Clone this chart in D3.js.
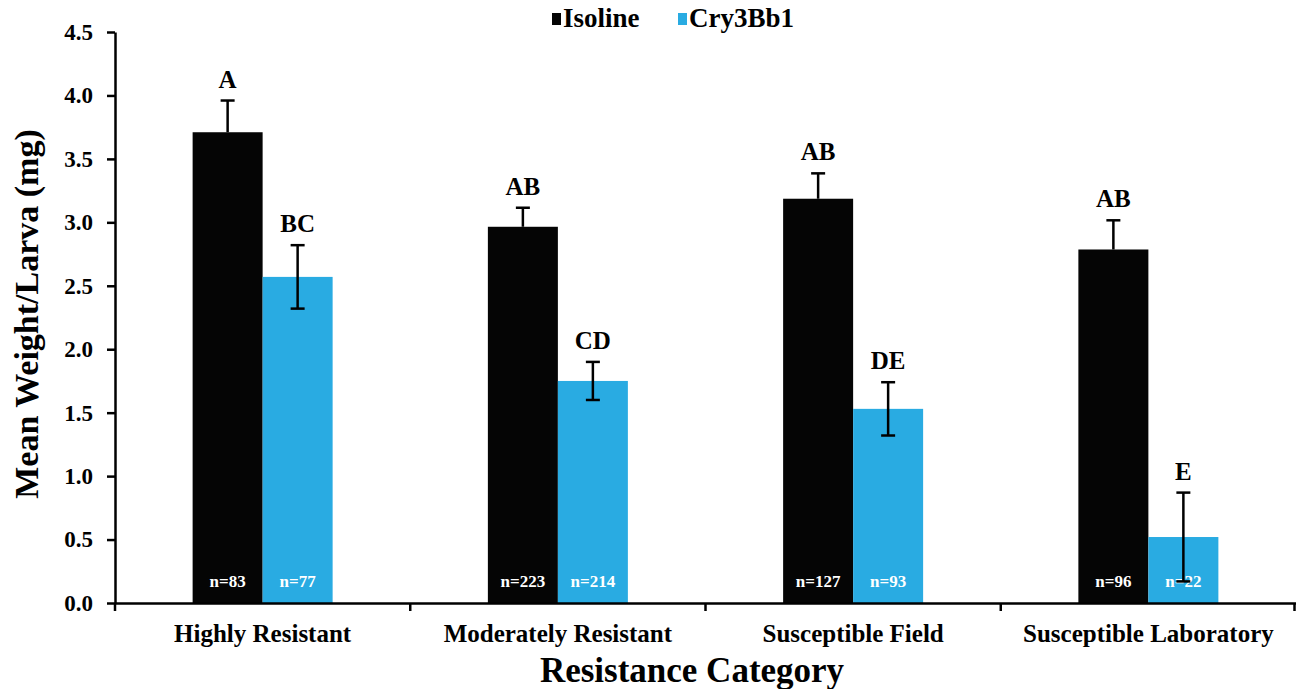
<!DOCTYPE html>
<html>
<head>
<style>
  body, html { margin: 0; padding: 0; background: #fff; }
  svg text { font-family: "Liberation Serif", "Times New Roman", serif; font-weight: bold; }
</style>
</head>
<body>
<svg id="svg" width="1296" height="689"></svg>
<script src="https://d3js.org/d3.v7.min.js"></script>
<script>
  const categories = ['Highly Resistant', 'Moderately Resistant', 'Susceptible Field', 'Susceptible Laboratory']
  const series = ['Isoline', 'Cry3Bb1']
  const isolineMean = [3.71, 2.965, 3.186, 2.786]
  const isolineErr = [0.25, 0.15, 0.20, 0.23]
  const cryMean = [2.57, 1.75, 1.53, 0.52]
  const cryErr = [0.25, 0.15, 0.21, 0.35]
  const isolineLetters = ['A', 'AB', 'AB', 'AB']
  const cryLetters = ['BC', 'CD', 'DE', 'E']
  const isolineN = ['n=83', 'n=223', 'n=127', 'n=96']
  const cryN = ['n=77', 'n=214', 'n=93', 'n=22']
  const yTicks = [0, 0.5, 1, 1.5, 2, 2.5, 3, 3.5, 4, 4.5]

  const colors = { Isoline: '#050505', Cry3Bb1: '#29abe2' }

  const data = []
  categories.forEach((c, i) => {
    data.push({ cat: c, s: 'Isoline', v: isolineMean[i], e: isolineErr[i], letter: isolineLetters[i], n: isolineN[i] })
    data.push({ cat: c, s: 'Cry3Bb1', v: cryMean[i], e: cryErr[i], letter: cryLetters[i], n: cryN[i] })
  })

  const margin = { left: 115, right: 0 }
  const width = 1296
  const svg = d3.select('#svg')

  const x = d3.scaleBand()
    .domain(categories)
    .range([margin.left, width - margin.right])
  const xs = d3.scaleBand()
    .domain(series)
    .range([(x.bandwidth() - 140) / 2, (x.bandwidth() + 140) / 2])
  const y = d3.scaleLinear()
    .domain([0, 4.5])
    .range([603, 32])

  // bars
  const bars = svg.append('g')
  bars.selectAll('rect')
    .data(data)
    .enter()
    .append('rect')
    .attr('x', d => x(d.cat) + xs(d.s))
    .attr('y', d => y(d.v))
    .attr('width', xs.bandwidth())
    .attr('height', d => y(0) - y(d.v))
    .attr('fill', d => colors[d.s])

  // n labels
  bars.selectAll('text.n')
    .data(data)
    .enter()
    .append('text')
    .attr('class', 'n')
    .attr('x', d => x(d.cat) + xs(d.s) + xs.bandwidth() / 2)
    .attr('y', 587)
    .attr('text-anchor', 'middle')
    .attr('fill', '#fff')
    .style('font-size', '17px')
    .text(d => d.n)

  // error bars (lower half of isoline is hidden by the black bar anyway)
  const err = svg.append('g').attr('stroke', '#000').attr('stroke-width', 2.5)
  data.forEach(d => {
    const cx = x(d.cat) + xs(d.s) + xs.bandwidth() / 2
    const lo = d.s === 'Isoline' ? d.v : d.v - d.e
    err.append('line').attr('x1', cx).attr('x2', cx).attr('y1', y(lo)).attr('y2', y(d.v + d.e))
    err.append('line').attr('x1', cx - 7).attr('x2', cx + 7).attr('y1', y(d.v + d.e)).attr('y2', y(d.v + d.e))
    if (d.s !== 'Isoline') {
      err.append('line').attr('x1', cx - 7).attr('x2', cx + 7).attr('y1', y(lo)).attr('y2', y(lo))
    }
  })

  // significance letters
  svg.append('g').selectAll('text')
    .data(data)
    .enter()
    .append('text')
    .attr('x', d => x(d.cat) + xs(d.s) + xs.bandwidth() / 2)
    .attr('y', d => y(d.v + d.e) - 13)
    .attr('text-anchor', 'middle')
    .style('font-size', '25px')
    .text(d => d.letter)

  // axes
  const leftAxis = d3.axisLeft(y).tickValues(yTicks).tickFormat(d3.format('.1f')).tickSize(8).tickSizeOuter(0)
  const gy = svg.append('g')
    .attr('transform', `translate(${margin.left},0)`)
    .call(leftAxis)
  gy.attr('font-family', null)
  gy.select('.domain').attr('stroke-width', 2.5)
  gy.selectAll('.tick line').attr('stroke-width', 2.5)
  gy.selectAll('.tick text')
    .attr('x', -22)
    .style('font-size', '23px')

  const bottomAxis = d3.axisBottom(x).tickSize(0).tickSizeOuter(0)
  const gx = svg.append('g')
    .attr('transform', `translate(0,${y(0)})`)
    .call(bottomAxis)
  gx.attr('font-family', null)
  gx.select('.domain').attr('stroke-width', 2.5)
  gx.selectAll('.tick text')
    .attr('y', 39)
    .attr('dy', 0)
    .style('font-size', '25px')
  // category boundary ticks
  const bounds = categories.map(c => x(c)).concat([x(categories[categories.length - 1]) + x.bandwidth()])
  gx.selectAll('line.bound')
    .data(bounds)
    .enter()
    .append('line')
    .attr('class', 'bound')
    .attr('x1', d => d === width ? d - 1.5 : d)
    .attr('x2', d => d === width ? d - 1.5 : d)
    .attr('y1', 0)
    .attr('y2', 8)
    .attr('stroke', '#000')
    .attr('stroke-width', 2.5)

  // axis titles
  svg.append('text')
    .attr('transform', `translate(38,314) rotate(-90)`)
    .attr('text-anchor', 'middle')
    .style('font-size', '34px')
    .text('Mean Weight/Larva (mg)')
  svg.append('text')
    .attr('x', 692)
    .attr('y', 682)
    .attr('text-anchor', 'middle')
    .style('font-size', '35px')
    .text('Resistance Category')

  // legend
  const legend = svg.append('g')
  const legendX = [552, 678]
  series.forEach((s, i) => {
    legend.append('rect')
      .attr('x', legendX[i]).attr('y', 13)
      .attr('width', 9).attr('height', 12)
      .attr('fill', colors[s])
    legend.append('text')
      .attr('x', legendX[i] + 11).attr('y', 27)
      .style('font-size', '27px')
      .text(s)
  })
</script>
</body>
</html>
